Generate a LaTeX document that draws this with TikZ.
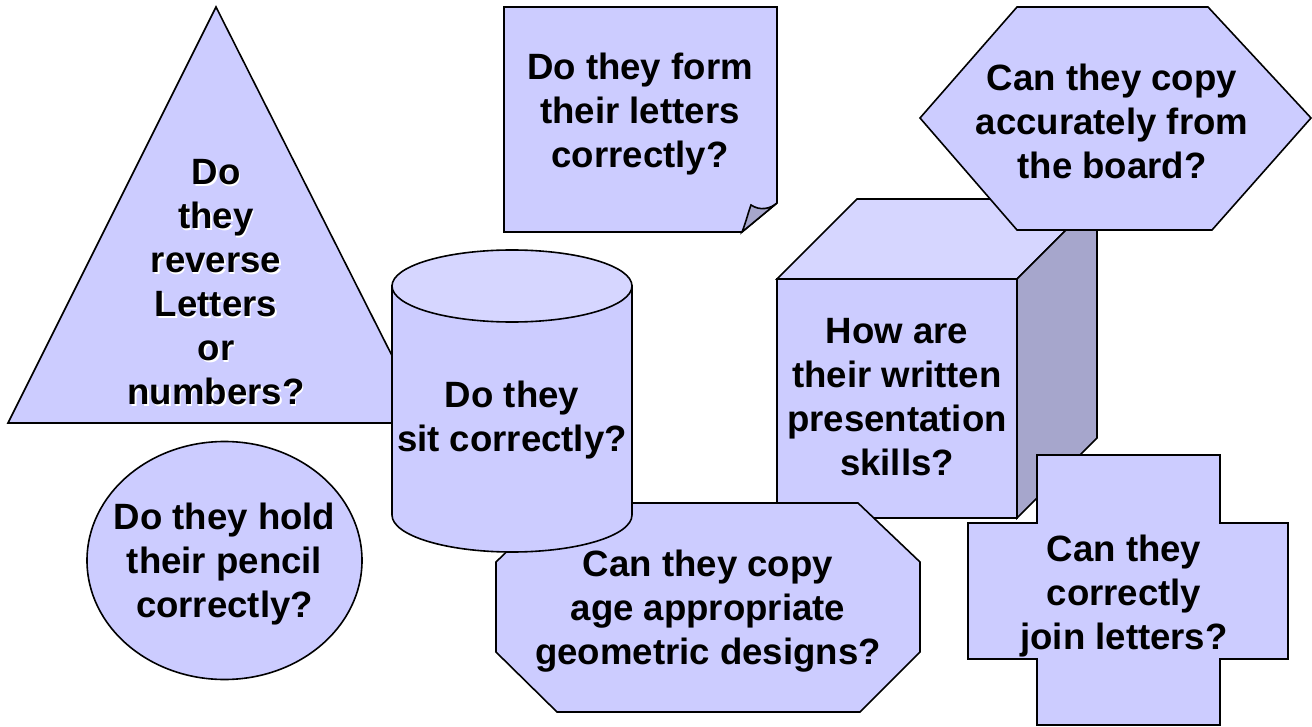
\documentclass[tikz,border=0pt]{standalone}
\usepackage{fontspec}
\setmainfont{Liberation Sans}
\definecolor{shapefill}{RGB}{204,204,255}
\definecolor{topfill}{RGB}{214,214,255}
\definecolor{sidefill}{RGB}{166,166,204}
\tikzset{
	solid shape/.style = {fill=shapefill, draw=black, line width=0.8pt, line join=miter},
	question/.style = {align=center, font=\fontsize{18.3}{22}\selectfont\bfseries, inner sep=0pt},
}
\begin{document}
\begin{tikzpicture}[x=0.5pt, y=-0.5pt]
		\useasboundingbox (0,0) rectangle (1312,727);

		% sticky note
		\filldraw[solid shape] (504,7) -- (777,7) -- (777,203) -- (742,232) -- (504,232) -- cycle;
		\filldraw[solid shape, fill=sidefill] (742,232) .. controls (746,222) and (748,213) .. (751,205)
			.. controls (760,211) and (770,209) .. (777,203) -- cycle;
		\node[question] (form) at (640,114) {Do they form\\their letters\\correctly?};

		% triangle
		\filldraw[solid shape] (216,7) -- (426,423) -- (8,423) -- cycle;
		\node[question, text=white] (reverseshadow) at (217.5,284) {Do\\they\\reverse\\Letters\\or\\numbers?};
		\node[question] (reverse) at (216,282.5) {Do\\they\\reverse\\Letters\\or\\numbers?};

		% cube
		\filldraw[solid shape] (777,279) rectangle (1017,518);
		\filldraw[solid shape, fill=topfill] (777,279) -- (857,199) -- (1097,199) -- (1017,279) -- cycle;
		\filldraw[solid shape, fill=sidefill] (1017,279) -- (1097,199) -- (1097,438) -- (1017,518) -- cycle;
		\node[question] (written) at (897,397) {How are\\their written\\presentation\\skills?};

		% hexagon
		\filldraw[solid shape] (920,118) -- (1017,7) -- (1208,7) -- (1311,118) -- (1212,230) -- (1017,230) -- cycle;
		\node[question] (board) at (1112,121) {Can they copy\\accurately from\\the board?};

		% cross
		\filldraw[solid shape] (1037,455) -- (1220,455) -- (1220,523) -- (1288,523) -- (1288,659) -- (1220,659)
			-- (1220,725) -- (1037,725) -- (1037,659) -- (968,659) -- (968,523) -- (1037,523) -- cycle;
		\node[question] (join) at (1124,596) {Can they\\correctly\\join letters?};

		% octagon
		\filldraw[solid shape] (557,503) -- (858,503) -- (920,562) -- (920,652) -- (860,712) -- (557,712)
			-- (496,652) -- (496,562) -- cycle;
		\node[question] (designs) at (708,611) {Can they copy\\age appropriate\\geometric designs?};

		% cylinder
		\filldraw[solid shape] (392,286) -- (392,515) arc[start angle=180, end angle=0, x radius=120, y radius=37]
			-- (632,286) -- cycle;
		\filldraw[solid shape, fill=topfill] (512,286) ellipse [x radius=120, y radius=36];
		\node[question] (sit) at (512,420) {Do they\\sit correctly?};

		% circle
		\filldraw[solid shape] (224.5,560.5) ellipse [x radius=137.5, y radius=119];
		\node[question] (pencil) at (224.5,564) {Do they hold\\their pencil\\correctly?};
\end{tikzpicture}
\end{document}
